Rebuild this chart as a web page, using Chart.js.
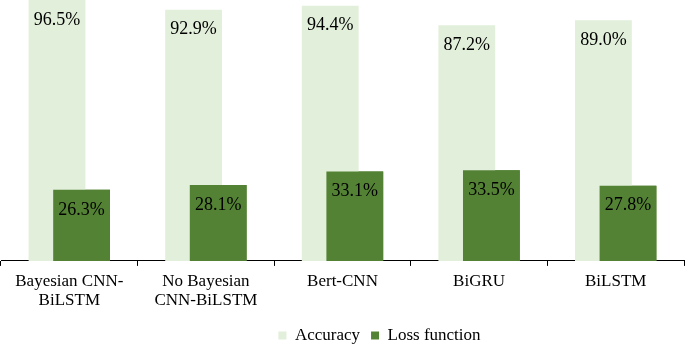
<!DOCTYPE html>
<html>
<head>
<meta charset="utf-8">
<script src="https://cdn.jsdelivr.net/npm/chart.js@4/dist/chart.umd.min.js"></script>
<style>
  html, body { margin: 0; padding: 0; background: #fff; }
  #wrap { width: 685px; height: 344px; position: relative; }
</style>
</head>
<body>
<div id="wrap"><canvas id="chart"></canvas></div>
<script>
// categories and values
var models = [['Bayesian CNN-', 'BiLSTM'], ['No Bayesian', 'CNN-BiLSTM'], 'Bert-CNN', 'BiGRU', 'BiLSTM']
var accuracy = [96.5, 92.9, 94.4, 87.2, 89.0]
var lossFunction = [26.3, 28.1, 33.1, 33.5, 27.8]

Chart.defaults.font.family = "'Liberation Serif', 'Times New Roman', serif"
Chart.defaults.color = '#000'

// loss bars sit over the accuracy bars, then the value labels go on top
var barLabels = {
    id: 'barLabels',
    afterLayout(chart) {
        chart.legend.left += 37
        chart.legend.right += 37
    },
    afterDatasetsDraw(chart) {
        var ctx = chart.ctx
        chart.getDatasetMeta(1).controller.draw()
        ctx.save()
        ctx.font = "18px 'Liberation Serif'"
        ctx.fillStyle = '#000'
        ctx.textAlign = 'center'
        ctx.textBaseline = 'middle'
        chart.data.datasets.forEach(function (ds, i) {
            chart.getDatasetMeta(i).data.forEach(function (bar, j) {
                ctx.fillText(ds.data[j].toFixed(1) + '%', bar.x, bar.y + 20)
            })
        })
        ctx.restore()
    }
}

new Chart(document.getElementById('chart'), {
    type: 'bar',
    data: {
        labels: models,
        datasets: [{
            label: 'Accuracy',
            data: accuracy,
            backgroundColor: '#E2EFDA'
        }, {
            label: 'Loss function',
            data: lossFunction,
            backgroundColor: '#548235'
        }]
    },
    options: {
        responsive: true,
        maintainAspectRatio: false,
        animation: false,
        categoryPercentage: 0.36,
        barPercentage: 2.31,
        layout: { padding: { left: 1, right: 1, top: 0, bottom: -10 } },
        scales: {
            x: {
                grid: { drawOnChartArea: false, drawTicks: true, tickLength: 5, color: '#000' },
                border: { display: true, color: '#000', width: 1 },
                ticks: { font: { size: 17, lineHeight: 1.12 }, padding: 6, maxRotation: 0, autoSkip: false }
            },
            y: { display: false, min: 0, max: 96.5 }
        },
        plugins: {
            legend: {
                position: 'bottom',
                labels: { boxWidth: 8, boxHeight: 8, font: { size: 17 }, padding: 11 }
            },
            tooltip: { enabled: false }
        }
    },
    plugins: [barLabels]
})
</script>
</body>
</html>
